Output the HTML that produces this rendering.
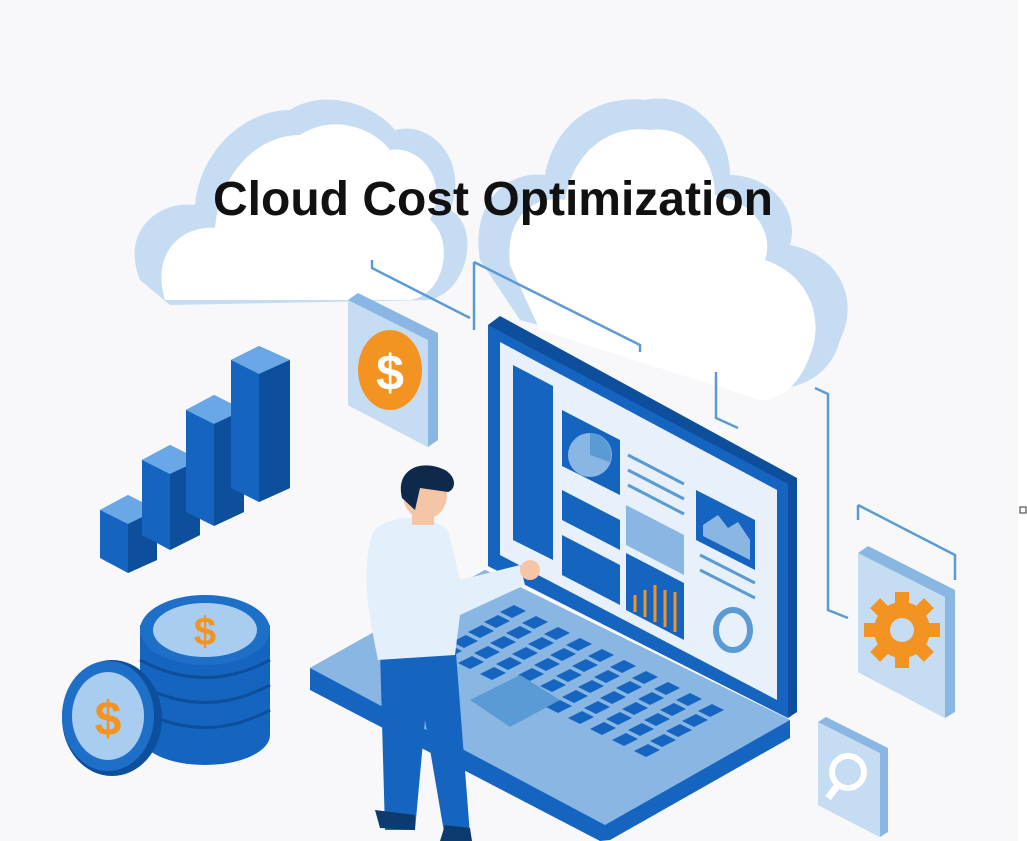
<!DOCTYPE html>
<html><head><meta charset="utf-8"><style>
html,body{margin:0;padding:0;background:#f8f8fa}
svg{display:block}
</style></head><body>
<svg width="1027" height="841" viewBox="0 0 1027 841" xmlns="http://www.w3.org/2000/svg">
<defs>
<g id="row">
<polygon points="0,0 14,-7 26,-1 12,6"/>
<polygon points="22,11 36,4 48,10 34,17"/>
<polygon points="44,22 58,15 70,21 56,28"/>
<polygon points="66,33 80,26 92,32 78,39"/>
<polygon points="88,44 102,37 114,43 100,50"/>
<polygon points="110,55 124,48 136,54 122,61"/>
<polygon points="132,66 146,59 158,65 144,72"/>
<polygon points="154,77 168,70 180,76 166,83"/>
<polygon points="176,88 190,81 202,87 188,94"/>
<polygon points="198,99 212,92 224,98 210,105"/>
</g>
</defs>
<rect width="1027" height="841" fill="#f8f8fa"/>
<rect x="1018" y="0" width="9" height="841" fill="#ffffff"/>
<rect x="1020" y="507" width="6" height="6" fill="none" stroke="#333" stroke-width="1"/>
<g>
<path d="M140,280 C120,230 160,200 195,205 C200,150 245,110 290,110 C320,90 370,100 395,130 C430,120 470,160 450,210 C480,225 470,290 430,300 L170,305 Z" fill="#c5dcf2"/>
<path d="M165,300 C150,250 185,225 215,228 C220,170 260,135 300,135 C330,115 370,125 390,150 C420,145 450,180 430,220 C455,240 445,295 410,300 Z" fill="#ffffff"/>
</g>
<g>
<path d="M480,260 C470,200 510,170 545,175 C555,120 600,95 645,100 C690,90 730,130 730,175 C770,175 800,210 790,245 C840,255 860,300 840,340 C830,380 790,395 760,385 L520,320 Z" fill="#c5dcf2"/>
<path d="M510,265 C505,215 535,195 565,200 C575,145 615,125 650,130 C690,125 715,160 715,195 C750,200 775,230 765,260 C810,275 825,320 810,355 C800,385 780,400 760,400 L540,330 Z" fill="#ffffff"/>
</g>
<text x="493" y="215" text-anchor="middle" font-family="Liberation Sans, sans-serif" font-weight="bold" font-size="48" fill="#111">Cloud Cost Optimization</text>
<g fill="none" stroke="#5b9bd5" stroke-width="2.5">
<path d="M372,260 L372,268 L470,318"/>
<path d="M474,262 L474,330 M474,262 L640,345 L640,352"/>
<path d="M716,372 L716,418 L738,428"/>
<path d="M815,388 L828,394 L828,610 L848,618"/>
<path d="M858,505 L858,520 M858,505 L955,555 L955,580"/>
</g>
<g>
<polygon points="100,510 128,495 157,510 157,560 128,573 100,558" fill="#1565c0"/>
<polygon points="100,510 128,495 157,510 128,524" fill="#6aa7e6"/>
<polygon points="128,524 157,510 157,560 128,573" fill="#0d4f9c"/>
<polygon points="142,460 170,445 200,460 200,535 170,550 142,535" fill="#1565c0"/>
<polygon points="142,460 170,445 200,460 170,474" fill="#6aa7e6"/>
<polygon points="170,474 200,460 200,535 170,550" fill="#0d4f9c"/>
<polygon points="186,410 214,395 244,410 244,512 214,526 186,512" fill="#1565c0"/>
<polygon points="186,410 214,395 244,410 214,424" fill="#6aa7e6"/>
<polygon points="214,424 244,410 244,512 214,526" fill="#0d4f9c"/>
<polygon points="231,360 259,346 290,360 290,488 259,502 231,488" fill="#1565c0"/>
<polygon points="231,360 259,346 290,360 259,374" fill="#6aa7e6"/>
<polygon points="259,374 290,360 290,488 259,502" fill="#0d4f9c"/>
</g>
<g>
<rect x="140" y="625" width="130" height="110" fill="#1565c0"/>
<ellipse cx="205" cy="735" rx="65" ry="30" fill="#1565c0"/>
<g stroke="#0d4f9c" stroke-width="3" fill="none">
<path d="M140,660 Q205,695 270,660"/><path d="M140,685 Q205,720 270,685"/><path d="M140,710 Q205,745 270,710"/>
</g>
<ellipse cx="205" cy="630" rx="65" ry="35" fill="#1e6fc8"/>
<ellipse cx="205" cy="630" rx="52" ry="27" fill="#a9cdf0"/>
<text x="205" y="645" text-anchor="middle" font-family="Liberation Sans, sans-serif" font-weight="bold" font-size="40" fill="#f39322">$</text>
<ellipse cx="112" cy="718" rx="50" ry="58" fill="#0d4f9c"/>
<ellipse cx="108" cy="716" rx="46" ry="55" fill="#1e6fc8"/>
<ellipse cx="108" cy="716" rx="36" ry="44" fill="#a9cdf0"/>
<text x="108" y="735" text-anchor="middle" font-family="Liberation Sans, sans-serif" font-weight="bold" font-size="48" fill="#f39322">$</text>
</g>
<polygon points="348,300 358,293 438,333 438,440 428,447 348,405" fill="#8ab6e3"/>
<polygon points="348,300 428,340 428,447 348,405" fill="#c5dcf2"/>
<ellipse cx="390" cy="370" rx="32" ry="40" fill="#f39322"/>
<text x="390" y="390" text-anchor="middle" font-family="Liberation Sans, sans-serif" font-weight="bold" font-size="50" fill="#fff">$</text>
<polygon points="310,668 485,570 790,720 790,738 610,840 600,841 310,690" fill="#1565c0"/>
<polygon points="310,668 485,570 790,720 605,825" fill="#8ab6e3"/>
<polygon points="440,640 500,605 745,722 650,780" fill="#8ab6e3"/>
<g fill="#1565c0">
<use href="#row" transform="translate(500,612)"/>
<use href="#row" transform="translate(484,622)"/>
<use href="#row" transform="translate(468,632)"/>
<use href="#row" transform="translate(452,642)"/>
<use href="#row" transform="translate(436,652)"/>
</g>
<polygon points="470,700 520,675 560,700 510,727" fill="#5b9bd5"/>
<polygon points="488,325 500,316 797,478 797,712 788,718 488,566" fill="#0d4f9c"/>
<polygon points="488,325 788,484 788,718 488,566" fill="#1565c0"/>
<polygon points="500,342 777,490 777,700 500,555" fill="#e8f1fb"/>
<polygon points="513,365 553,386 553,560 513,540" fill="#1565c0"/>
<polygon points="562,410 620,440 620,495 562,466" fill="#1565c0"/>
<circle cx="590" cy="455" r="22" fill="#8ab6e3"/>
<path d="M590,455 L590,433 A22,22 0 0,1 610,462 Z" fill="#5b9bd5"/>
<polygon points="562,490 620,520 620,550 562,520" fill="#1565c0"/>
<polygon points="562,535 620,565 620,605 562,575" fill="#1565c0"/>
<polygon points="626,505 684,535 684,575 626,545" fill="#8ab6e3"/>
<polygon points="626,553 684,583 684,640 626,610" fill="#1565c0"/>
<g stroke="#f39322" stroke-width="3"><path d="M635,595 V612 M645,590 V617 M655,585 V622 M665,590 V627 M675,592 V632"/></g>
<g stroke="#5b9bd5" stroke-width="3"><path d="M628,455 L684,484 M628,470 L684,499 M628,485 L684,514"/><path d="M700,555 L755,583 M700,570 L755,598"/></g>
<polygon points="696,490 755,520 755,570 696,540" fill="#1565c0"/>
<path d="M703,525 L718,515 L728,528 L738,522 L750,540 L750,560 L703,536 Z" fill="#8ab6e3"/>
<ellipse cx="733" cy="630" rx="17" ry="20" fill="none" stroke="#5b9bd5" stroke-width="6"/>
<path d="M380,650 L455,640 L470,835 L445,838 L425,720 L415,830 L385,830 Z" fill="#1565c0"/>
<path d="M375,810 L415,815 L415,830 L380,828 Z" fill="#0d3b70"/>
<path d="M445,825 L470,828 L472,841 L440,841 Z" fill="#0d3b70"/>
<path d="M372,535 C380,515 430,512 448,530 L460,580 L520,565 L525,585 L460,615 L455,655 L378,660 C370,620 360,575 372,535 Z" fill="#e3effa"/>
<circle cx="530" cy="570" r="10" fill="#f5c6a5"/>
<rect x="412" y="495" width="22" height="30" fill="#f5c6a5"/>
<ellipse cx="425" cy="495" rx="22" ry="24" fill="#f5c6a5"/>
<path d="M402,498 C395,470 420,458 445,470 C458,478 455,490 448,492 L420,488 L415,510 Z" fill="#0d2a4a"/>
<polygon points="858,553 868,546 955,590 955,712 945,718 858,672" fill="#8ab6e3"/>
<polygon points="858,553 945,597 945,718 858,672" fill="#c5dcf2"/>
<g transform="translate(902,630)">
<g fill="#f39322">
<rect x="-7" y="-38" width="14" height="76"/>
<rect x="-7" y="-38" width="14" height="76" transform="rotate(45)"/>
<rect x="-7" y="-38" width="14" height="76" transform="rotate(90)"/>
<rect x="-7" y="-38" width="14" height="76" transform="rotate(135)"/>
<circle r="28"/>
</g>
<circle r="12" fill="#c5dcf2"/>
</g>
<polygon points="818,722 826,717 888,748 888,832 880,837 818,805" fill="#8ab6e3"/>
<polygon points="818,722 880,753 880,837 818,805" fill="#c5dcf2"/>
<circle cx="848" cy="772" r="16" fill="none" stroke="#fff" stroke-width="6"/>
<path d="M838,785 L828,798" stroke="#fff" stroke-width="7"/>
</svg>
</body></html>
